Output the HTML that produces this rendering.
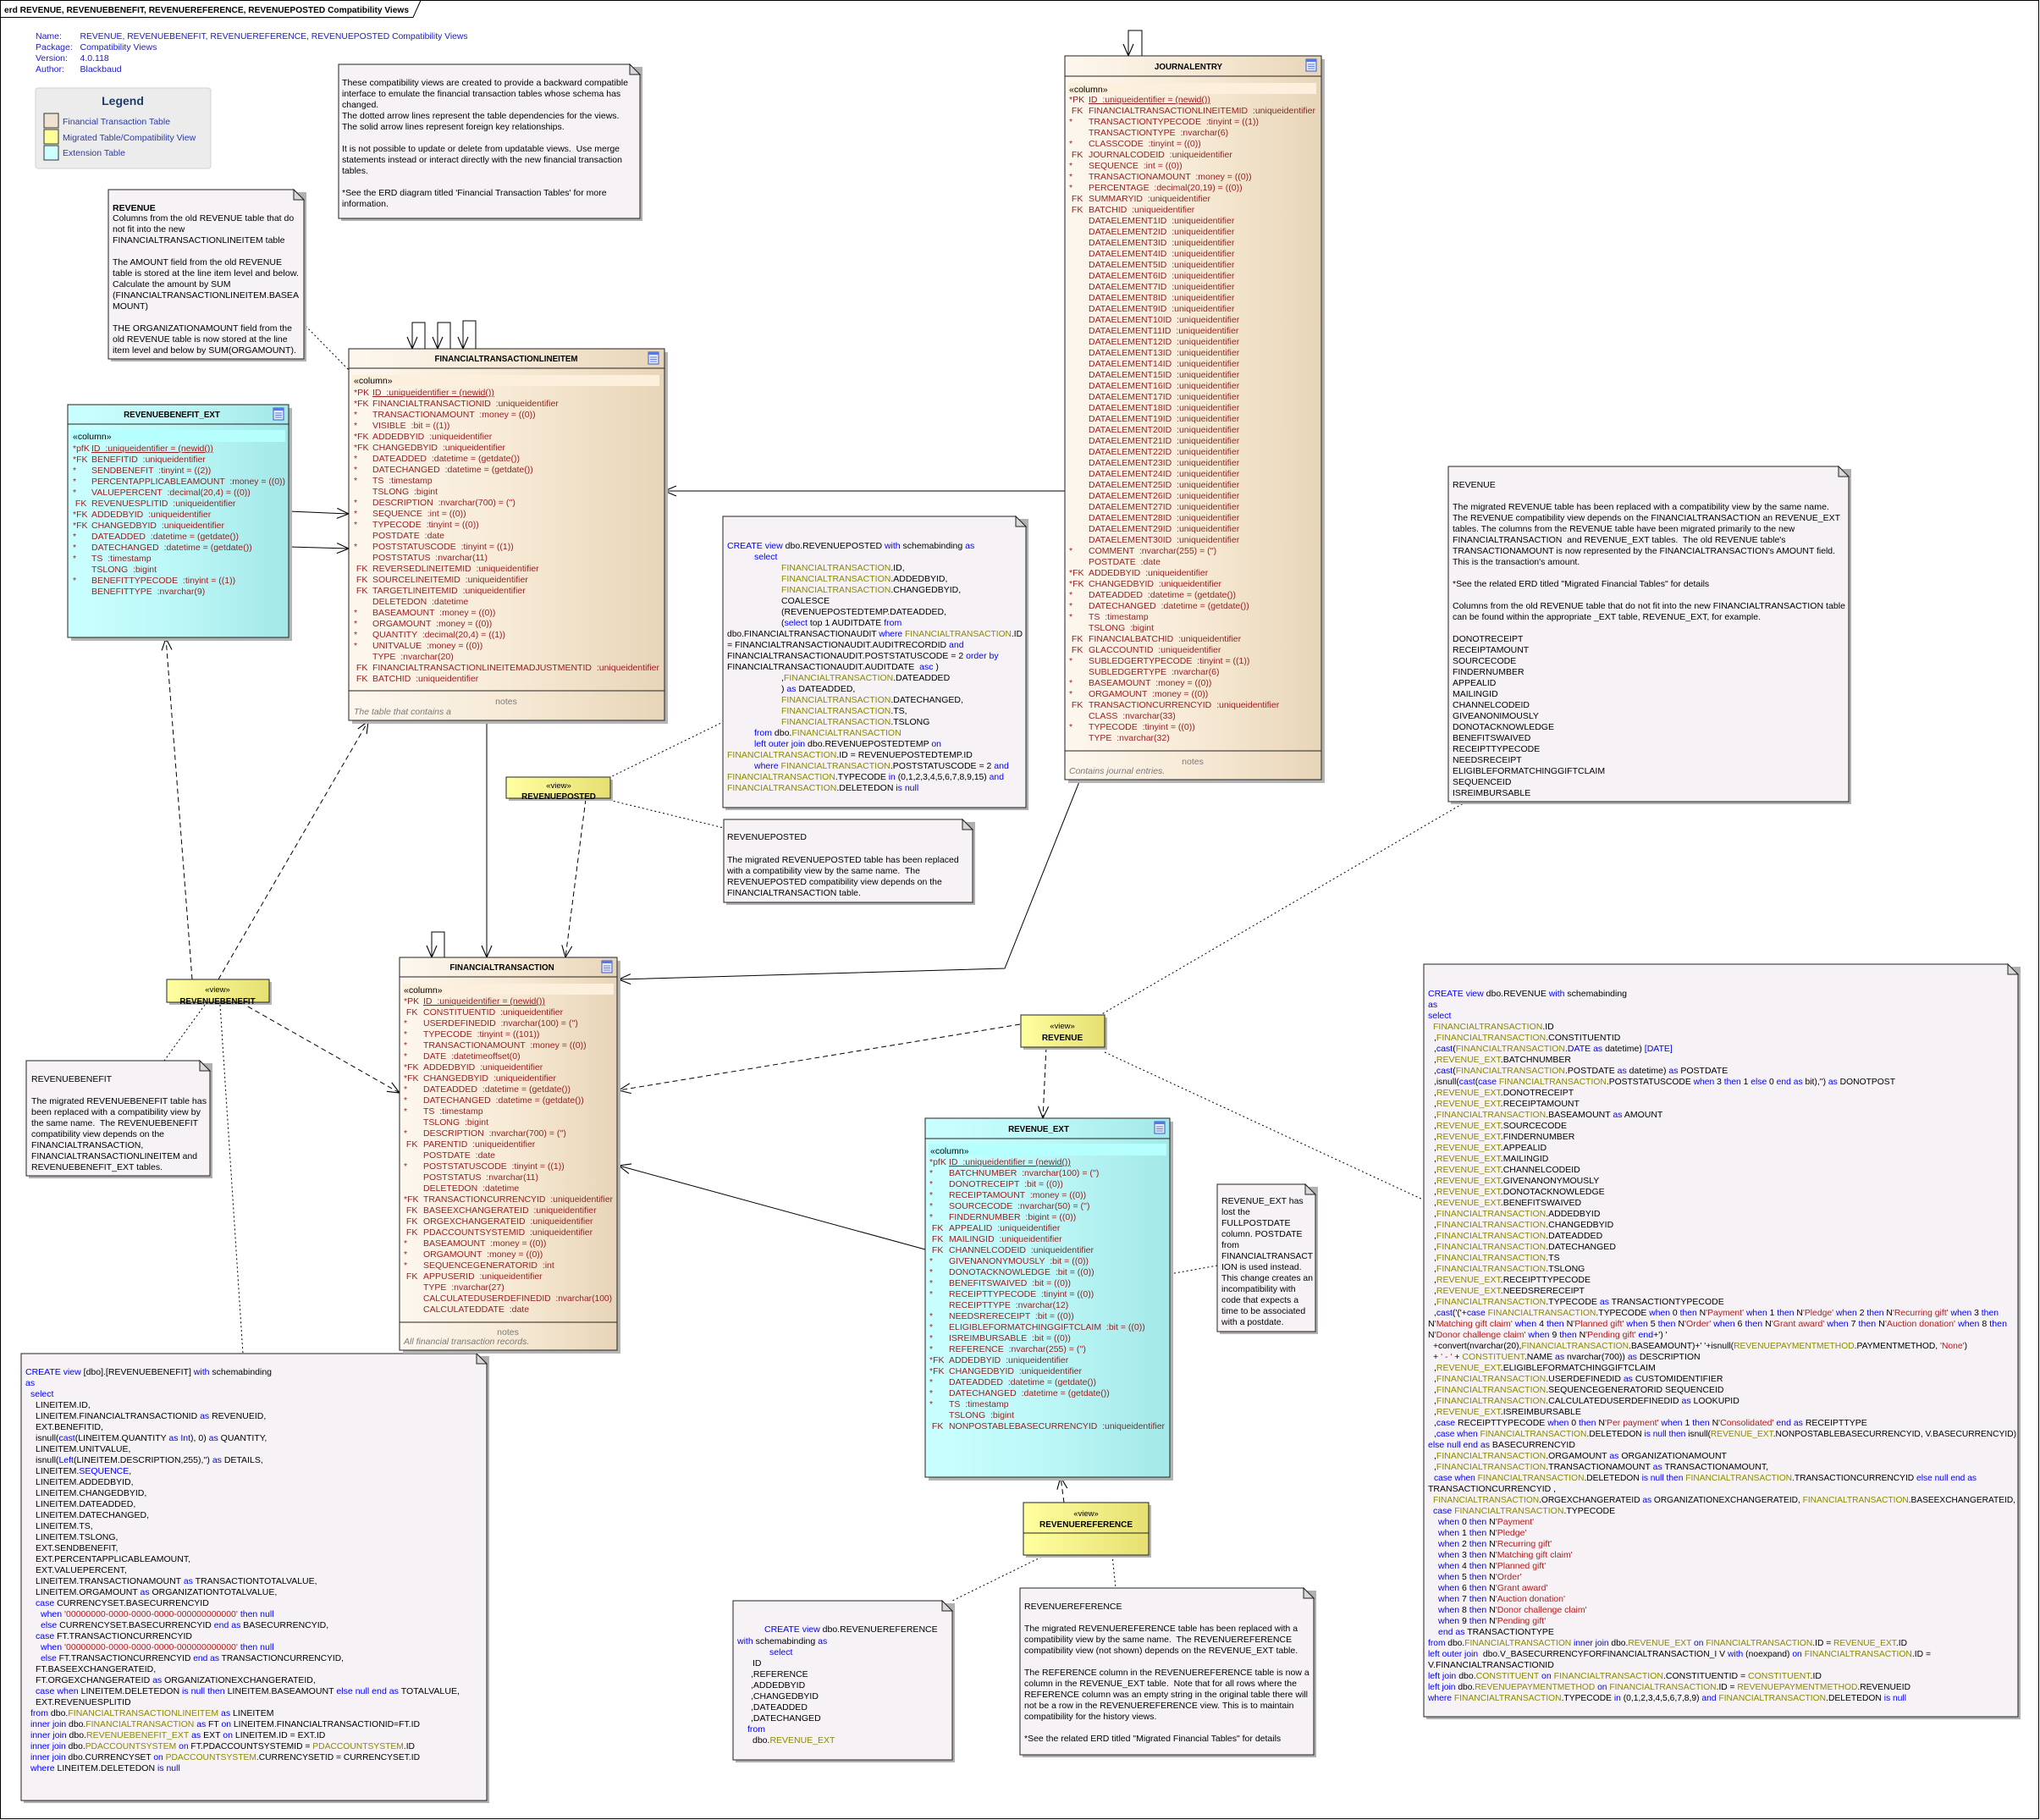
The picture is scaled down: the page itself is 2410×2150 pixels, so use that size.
<!DOCTYPE html>
<html><head><meta charset="utf-8"><title>erd REVENUE Compatibility Views</title>
<style>
html,body{margin:0;padding:0;background:#fff;}
svg{display:block;}
text{font-family:"Liberation Sans",Arial,sans-serif;font-size:10.5px;white-space:pre;fill:#000;}
.r{fill:#961e1e;}
.k{fill:#0000ff;}
.o{fill:#8a8a00;}
.s{fill:#b01c1c;}
.b{font-weight:bold;}
.hd{fill:#2020c0;}
.lg{fill:#2a3aa8;}
.nt{fill:#7a7a7a;}
.it{fill:#7a7a7a;font-style:italic;}
.u{text-decoration:underline;}
.ttl{font-weight:bold;font-size:9.8px;}
</style></head><body>
<svg width="2410" height="2150" viewBox="0 0 2410 2150" xmlns="http://www.w3.org/2000/svg">
<defs>
<linearGradient id="gf" x1="0" y1="0" x2="1" y2="0"><stop offset="0" stop-color="#fdf7ee"/><stop offset="0.5" stop-color="#f7ead6"/><stop offset="1" stop-color="#e8d5b8"/></linearGradient>
<linearGradient id="gc" x1="0" y1="0" x2="1" y2="0"><stop offset="0" stop-color="#caffff"/><stop offset="0.5" stop-color="#bcf7f7"/><stop offset="1" stop-color="#a3e8e8"/></linearGradient>
<linearGradient id="gy" x1="0" y1="0" x2="1" y2="0"><stop offset="0" stop-color="#ffffa0"/><stop offset="1" stop-color="#e6e072"/></linearGradient>
<marker id="a" viewBox="0 0 16 14" refX="15" refY="7" markerWidth="16" markerHeight="14" orient="auto" markerUnits="userSpaceOnUse"><path d="M1 1 L15 7 L1 13" fill="none" stroke="#000" stroke-width="1.1"/></marker>
<g id="ico"><rect x="0" y="0" width="12" height="14" fill="#e4ebff" stroke="#3a58c8" stroke-width="1"/><rect x="0" y="0" width="12" height="3" fill="#5878e0"/><path d="M2 6H10M2 8.5H10M2 11H10" stroke="#3a58c8" stroke-width="0.8"/></g>
</defs>

<!-- frame -->
<rect x="0.5" y="0.5" width="2408" height="2148" fill="none" stroke="#000"/>
<path d="M0.5 20.5 H488 L497 0.5" fill="none" stroke="#000"/>
<text x="5" y="15" class="b" textLength="478" lengthAdjust="spacingAndGlyphs">erd REVENUE, REVENUEBENEFIT, REVENUEREFERENCE, REVENUEPOSTED Compatibility Views</text>

<!-- header info -->
<text x="42" y="46" class="hd">Name:</text><text x="94.5" y="46" class="hd" textLength="458" lengthAdjust="spacingAndGlyphs">REVENUE, REVENUEBENEFIT, REVENUEREFERENCE, REVENUEPOSTED Compatibility Views</text>
<text x="42" y="59" class="hd">Package:</text><text x="94.5" y="59" class="hd">Compatibility Views</text>
<text x="42" y="72" class="hd">Version:</text><text x="94.5" y="72" class="hd">4.0.118</text>
<text x="42" y="85" class="hd">Author:</text><text x="94.5" y="85" class="hd">Blackbaud</text>

<!-- legend -->
<rect x="42" y="104" width="207" height="95" rx="3" fill="#ececec" stroke="#d2d2d2"/>
<text x="145" y="124" text-anchor="middle" style="font-size:14px;font-weight:bold;fill:#1f3a6e">Legend</text>
<rect x="52" y="134" width="17" height="17" fill="#efe2cf" stroke="#333"/>
<text x="74" y="147" class="lg">Financial Transaction Table</text>
<rect x="52" y="153" width="17" height="17" fill="#ffff99" stroke="#333"/>
<text x="74" y="166" class="lg">Migrated Table/Compatibility View</text>
<rect x="52" y="172" width="17" height="17" fill="#ccffff" stroke="#333"/>
<text x="74" y="184" class="lg">Extension Table</text>

<!-- ================= CONNECTORS ================= -->
<g fill="none" stroke="#000" stroke-width="1">
<polyline points="502,412 502,381 487,381 487,412" marker-end="url(#a)"/>
<polyline points="532,412 532,381 517,381 517,412" marker-end="url(#a)"/>
<polyline points="562,412 562,379 547,379 547,412" marker-end="url(#a)"/>
<line x1="341" y1="604" x2="412" y2="607" marker-end="url(#a)"/>
<line x1="341" y1="646" x2="412" y2="648" marker-end="url(#a)"/>
<line x1="1258" y1="580" x2="785" y2="580" marker-end="url(#a)"/>
<line x1="575" y1="851" x2="575" y2="1131" marker-end="url(#a)"/>
<polyline points="525,1131 525,1101 510,1101 510,1131" marker-end="url(#a)"/>
<polyline points="1349,66 1349,36 1333,36 1333,66" marker-end="url(#a)"/>
<polyline points="1276,921 1187,1144 731,1157" marker-end="url(#a)"/>
<line x1="1093" y1="1476" x2="731" y2="1377" marker-end="url(#a)"/>
</g>
<g fill="none" stroke="#000" stroke-width="1" stroke-dasharray="6 4">
<line x1="227" y1="1157" x2="196" y2="754" marker-end="url(#a)"/>
<line x1="258" y1="1157" x2="435" y2="852" marker-end="url(#a)"/>
<line x1="284" y1="1184" x2="472" y2="1291" marker-end="url(#a)"/>
<line x1="692" y1="944" x2="668" y2="1131" marker-end="url(#a)"/>
<line x1="1205" y1="1210" x2="731" y2="1288" marker-end="url(#a)"/>
<line x1="1236" y1="1237" x2="1232" y2="1321" marker-end="url(#a)"/>
<line x1="1257" y1="1775" x2="1253" y2="1745" marker-end="url(#a)"/>
</g>
<g fill="none" stroke="#000" stroke-width="1" stroke-dasharray="2 3">
<line x1="361" y1="385" x2="412" y2="437"/>
<line x1="242" y1="1187" x2="194" y2="1253"/>
<line x1="260" y1="1187" x2="287" y2="1599"/>
<line x1="719" y1="919" x2="854" y2="853"/>
<line x1="715" y1="944" x2="855" y2="978"/>
<line x1="1305" y1="1243" x2="1683" y2="1418"/>
<line x1="1732" y1="947" x2="1300" y2="1199"/>
<line x1="1382" y1="1505" x2="1438" y2="1495"/>
<line x1="1235" y1="1837" x2="1123" y2="1892"/>
<line x1="1314" y1="1837" x2="1318" y2="1876"/>
</g>

<!-- ================= NOTES ================= -->
<!-- top note -->
<rect x="403" y="79" width="356" height="182" fill="#b0b0b0"/>
<path d="M400 76 H744 L756 88 V258 H400 Z" fill="#f6f2f6" stroke="#222"/>
<path d="M744 76 L744 88 L756 88 Z" fill="#d8d8d8" stroke="#222"/>
<text x="404" y="101" textLength="338" lengthAdjust="spacingAndGlyphs">These compatibility views are created to provide a backward compatible</text>
<text x="404" y="114">interface to emulate the financial transaction tables whose schema has</text>
<text x="404" y="127">changed.</text>
<text x="404" y="140">The dotted arrow lines represent the table dependencies for the views.</text>
<text x="404" y="153">The solid arrow lines represent foreign key relationships.</text>
<text x="404" y="179">It is not possible to update or delete from updatable views.  Use merge</text>
<text x="404" y="192">statements instead or interact directly with the new financial transaction</text>
<text x="404" y="205">tables.</text>
<text x="404" y="231">*See the ERD diagram titled 'Financial Transaction Tables' for more</text>
<text x="404" y="244">information.</text>

<!-- REVENUE note left -->
<rect x="131" y="227" width="231" height="200" fill="#b0b0b0"/>
<path d="M128 224 H347 L359 236 V424 H128 Z" fill="#f6f2f6" stroke="#222"/>
<path d="M347 224 L347 236 L359 236 Z" fill="#d8d8d8" stroke="#222"/>
<text x="133" y="249" class="b">REVENUE</text>
<text x="133" y="261">Columns from the old REVENUE table that do</text>
<text x="133" y="274">not fit into the new</text>
<text x="133" y="287">FINANCIALTRANSACTIONLINEITEM table</text>
<text x="133" y="313">The AMOUNT field from the old REVENUE</text>
<text x="133" y="326" textLength="220" lengthAdjust="spacingAndGlyphs">table is stored at the line item level and below.</text>
<text x="133" y="339">Calculate the amount by SUM</text>
<text x="133" y="352" textLength="220" lengthAdjust="spacingAndGlyphs">(FINANCIALTRANSACTIONLINEITEM.BASEA</text>
<text x="133" y="365">MOUNT)</text>
<text x="133" y="391">THE ORGANIZATIONAMOUNT field from the</text>
<text x="133" y="404">old REVENUE table is now stored at the line</text>
<text x="133" y="417" textLength="217" lengthAdjust="spacingAndGlyphs">item level and below by SUM(ORGAMOUNT).</text>

<!-- REVENUEPOSTED SQL note -->
<rect x="857" y="613" width="358" height="344" fill="#b0b0b0"/>
<path d="M854 610 H1200 L1212 622 V954 H854 Z" fill="#f6f2f6" stroke="#222"/>
<path d="M1200 610 L1200 622 L1212 622 Z" fill="#d8d8d8" stroke="#222"/>
<text x="859" y="648"><tspan class="k">CREATE view</tspan> dbo.REVENUEPOSTED <tspan class="k">with</tspan> schemabinding <tspan class="k">as</tspan></text>
<text x="891" y="661" class="k">select</text>
<text x="923" y="674"><tspan class="o">FINANCIALTRANSACTION</tspan>.ID,</text>
<text x="923" y="687"><tspan class="o">FINANCIALTRANSACTION</tspan>.ADDEDBYID,</text>
<text x="923" y="700"><tspan class="o">FINANCIALTRANSACTION</tspan>.CHANGEDBYID,</text>
<text x="923" y="713">COALESCE</text>
<text x="923" y="726">(REVENUEPOSTEDTEMP.DATEADDED,</text>
<text x="923" y="739">(<tspan class="k">select</tspan> top 1 AUDITDATE <tspan class="k">from</tspan></text>
<text x="859" y="752" textLength="349" lengthAdjust="spacingAndGlyphs">dbo.FINANCIALTRANSACTIONAUDIT <tspan class="k">where</tspan> <tspan class="o">FINANCIALTRANSACTION</tspan>.ID</text>
<text x="859" y="765">= FINANCIALTRANSACTIONAUDIT.AUDITRECORDID <tspan class="k">and</tspan></text>
<text x="859" y="778">FINANCIALTRANSACTIONAUDIT.POSTSTATUSCODE = 2 <tspan class="k">order by</tspan></text>
<text x="859" y="791">FINANCIALTRANSACTIONAUDIT.AUDITDATE  <tspan class="k">asc</tspan> )</text>
<text x="923" y="804">,<tspan class="o">FINANCIALTRANSACTION</tspan>.DATEADDED</text>
<text x="923" y="817">) <tspan class="k">as</tspan> DATEADDED,</text>
<text x="923" y="830"><tspan class="o">FINANCIALTRANSACTION</tspan>.DATECHANGED,</text>
<text x="923" y="843"><tspan class="o">FINANCIALTRANSACTION</tspan>.TS,</text>
<text x="923" y="856"><tspan class="o">FINANCIALTRANSACTION</tspan>.TSLONG</text>
<text x="891" y="869"><tspan class="k">from</tspan> dbo.<tspan class="o">FINANCIALTRANSACTION</tspan></text>
<text x="891" y="882"><tspan class="k">left outer join</tspan> dbo.REVENUEPOSTEDTEMP <tspan class="k">on</tspan></text>
<text x="859" y="895"><tspan class="o">FINANCIALTRANSACTION</tspan>.ID = REVENUEPOSTEDTEMP.ID</text>
<text x="891" y="908"><tspan class="k">where</tspan> <tspan class="o">FINANCIALTRANSACTION</tspan>.POSTSTATUSCODE = 2 <tspan class="k">and</tspan></text>
<text x="859" y="921" textLength="327" lengthAdjust="spacingAndGlyphs"><tspan class="o">FINANCIALTRANSACTION</tspan>.TYPECODE <tspan class="k">in</tspan> (0,1,2,3,4,5,6,7,8,9,15) <tspan class="k">and</tspan></text>
<text x="859" y="934"><tspan class="o">FINANCIALTRANSACTION</tspan>.DELETEDON <tspan class="k">is null</tspan></text>

<!-- REVENUEPOSTED note -->
<rect x="858" y="971" width="294" height="98" fill="#b0b0b0"/>
<path d="M855 968 H1137 L1149 980 V1066 H855 Z" fill="#f6f2f6" stroke="#222"/>
<path d="M1137 968 L1137 980 L1149 980 Z" fill="#d8d8d8" stroke="#222"/>
<text x="859" y="992">REVENUEPOSTED</text>
<text x="859" y="1019">The migrated REVENUEPOSTED table has been replaced</text>
<text x="859" y="1032">with a compatibility view by the same name.  The</text>
<text x="859" y="1045">REVENUEPOSTED compatibility view depends on the</text>
<text x="859" y="1058">FINANCIALTRANSACTION table.</text>

<!-- REVENUE note right -->
<rect x="1714" y="554" width="473" height="396" fill="#b0b0b0"/>
<path d="M1711 551 H2172 L2184 563 V947 H1711 Z" fill="#f6f2f6" stroke="#222"/>
<path d="M2172 551 L2172 563 L2184 563 Z" fill="#d8d8d8" stroke="#222"/>
<text x="1716" y="576">REVENUE</text>
<text x="1716" y="602" textLength="445" lengthAdjust="spacingAndGlyphs">The migrated REVENUE table has been replaced with a compatibility view by the same name.</text>
<text x="1716" y="615" textLength="458" lengthAdjust="spacingAndGlyphs">The REVENUE compatibility view depends on the FINANCIALTRANSACTION an REVENUE_EXT</text>
<text x="1716" y="628">tables. The columns from the REVENUE table have been migrated primarily to the new</text>
<text x="1716" y="641">FINANCIALTRANSACTION  and REVENUE_EXT tables.  The old REVENUE table's</text>
<text x="1716" y="654" textLength="452" lengthAdjust="spacingAndGlyphs">TRANSACTIONAMOUNT is now represented by the FINANCIALTRANSACTION's AMOUNT field.</text>
<text x="1716" y="667">This is the transaction's amount.</text>
<text x="1716" y="693">*See the related ERD titled "Migrated Financial Tables" for details</text>
<text x="1716" y="719" textLength="464" lengthAdjust="spacingAndGlyphs">Columns from the old REVENUE table that do not fit into the new FINANCIALTRANSACTION table</text>
<text x="1716" y="732">can be found within the appropriate _EXT table, REVENUE_EXT, for example.</text>
<text x="1716" y="758">DONOTRECEIPT</text>
<text x="1716" y="771">RECEIPTAMOUNT</text>
<text x="1716" y="784">SOURCECODE</text>
<text x="1716" y="797">FINDERNUMBER</text>
<text x="1716" y="810">APPEALID</text>
<text x="1716" y="823">MAILINGID</text>
<text x="1716" y="836">CHANNELCODEID</text>
<text x="1716" y="849">GIVEANONIMOUSLY</text>
<text x="1716" y="862">DONOTACKNOWLEDGE</text>
<text x="1716" y="875">BENEFITSWAIVED</text>
<text x="1716" y="888">RECEIPTTYPECODE</text>
<text x="1716" y="901">NEEDSRECEIPT</text>
<text x="1716" y="914">ELIGIBLEFORMATCHINGGIFTCLAIM</text>
<text x="1716" y="927">SEQUENCEID</text>
<text x="1716" y="940">ISREIMBURSABLE</text>

<!-- REVENUEBENEFIT note -->
<rect x="34" y="1256" width="217" height="136" fill="#b0b0b0"/>
<path d="M31 1253 H236 L248 1265 V1389 H31 Z" fill="#f6f2f6" stroke="#222"/>
<path d="M236 1253 L236 1265 L248 1265 Z" fill="#d8d8d8" stroke="#222"/>
<text x="37" y="1278">REVENUEBENEFIT</text>
<text x="37" y="1304" textLength="207" lengthAdjust="spacingAndGlyphs">The migrated REVENUEBENEFIT table has</text>
<text x="37" y="1317" textLength="200" lengthAdjust="spacingAndGlyphs">been replaced with a compatibility view by</text>
<text x="37" y="1330">the same name.  The REVENUEBENEFIT</text>
<text x="37" y="1343">compatibility view depends on the</text>
<text x="37" y="1356">FINANCIALTRANSACTION,</text>
<text x="37" y="1369" textLength="196" lengthAdjust="spacingAndGlyphs">FINANCIALTRANSACTIONLINEITEM and</text>
<text x="37" y="1382">REVENUEBENEFIT_EXT tables.</text>

<!-- REVENUEBENEFIT SQL -->
<rect x="28" y="1602" width="550" height="528" fill="#b0b0b0"/>
<path d="M25 1599 H563 L575 1611 V2127 H25 Z" fill="#f6f2f6" stroke="#222"/>
<path d="M563 1599 L563 1611 L575 1611 Z" fill="#d8d8d8" stroke="#222"/>
<text x="30" y="1624"><tspan class="k">CREATE view</tspan> [dbo].[REVENUEBENEFIT] <tspan class="k">with</tspan> schemabinding</text>
<text x="30" y="1637" class="k">as</text>
<text x="36" y="1650" class="k">select</text>
<text x="42" y="1663">LINEITEM.ID,</text>
<text x="42" y="1676">LINEITEM.FINANCIALTRANSACTIONID <tspan class="k">as</tspan> REVENUEID,</text>
<text x="42" y="1689">EXT.BENEFITID,</text>
<text x="42" y="1702">isnull(<tspan class="k">cast</tspan>(LINEITEM.QUANTITY <tspan class="k">as Int</tspan>), 0) <tspan class="k">as</tspan> QUANTITY,</text>
<text x="42" y="1715">LINEITEM.UNITVALUE,</text>
<text x="42" y="1728">isnull(<tspan class="k">Left</tspan>(LINEITEM.DESCRIPTION,255),'') <tspan class="k">as</tspan> DETAILS,</text>
<text x="42" y="1741">LINEITEM.<tspan class="k">SEQUENCE</tspan>,</text>
<text x="42" y="1754">LINEITEM.ADDEDBYID,</text>
<text x="42" y="1767">LINEITEM.CHANGEDBYID,</text>
<text x="42" y="1780">LINEITEM.DATEADDED,</text>
<text x="42" y="1793">LINEITEM.DATECHANGED,</text>
<text x="42" y="1806">LINEITEM.TS,</text>
<text x="42" y="1819">LINEITEM.TSLONG,</text>
<text x="42" y="1832">EXT.SENDBENEFIT,</text>
<text x="42" y="1845">EXT.PERCENTAPPLICABLEAMOUNT,</text>
<text x="42" y="1858">EXT.VALUEPERCENT,</text>
<text x="42" y="1871">LINEITEM.TRANSACTIONAMOUNT <tspan class="k">as</tspan> TRANSACTIONTOTALVALUE,</text>
<text x="42" y="1884">LINEITEM.ORGAMOUNT <tspan class="k">as</tspan> ORGANIZATIONTOTALVALUE,</text>
<text x="42" y="1897"><tspan class="k">case</tspan> CURRENCYSET.BASECURRENCYID</text>
<text x="48" y="1910"><tspan class="k">when</tspan> <tspan class="s">'00000000-0000-0000-0000-000000000000'</tspan> <tspan class="k">then null</tspan></text>
<text x="48" y="1923"><tspan class="k">else</tspan> CURRENCYSET.BASECURRENCYID <tspan class="k">end as</tspan> BASECURRENCYID,</text>
<text x="42" y="1936"><tspan class="k">case</tspan> FT.TRANSACTIONCURRENCYID</text>
<text x="48" y="1949"><tspan class="k">when</tspan> <tspan class="s">'00000000-0000-0000-0000-000000000000'</tspan> <tspan class="k">then null</tspan></text>
<text x="48" y="1962" textLength="358" lengthAdjust="spacingAndGlyphs"><tspan class="k">else</tspan> FT.TRANSACTIONCURRENCYID <tspan class="k">end as</tspan> TRANSACTIONCURRENCYID,</text>
<text x="42" y="1975">FT.BASEEXCHANGERATEID,</text>
<text x="42" y="1988">FT.ORGEXCHANGERATEID <tspan class="k">as</tspan> ORGANIZATIONEXCHANGERATEID,</text>
<text x="42" y="2001" textLength="501" lengthAdjust="spacingAndGlyphs"><tspan class="k">case when</tspan> LINEITEM.DELETEDON <tspan class="k">is null then</tspan> LINEITEM.BASEAMOUNT <tspan class="k">else null end as</tspan> TOTALVALUE,</text>
<text x="42" y="2014">EXT.REVENUESPLITID</text>
<text x="36" y="2027"><tspan class="k">from</tspan> dbo.<tspan class="o">FINANCIALTRANSACTIONLINEITEM</tspan> <tspan class="k">as</tspan> LINEITEM</text>
<text x="36" y="2040" textLength="460" lengthAdjust="spacingAndGlyphs"><tspan class="k">inner join</tspan> dbo.<tspan class="o">FINANCIALTRANSACTION</tspan> <tspan class="k">as</tspan> FT <tspan class="k">on</tspan> LINEITEM.FINANCIALTRANSACTIONID=FT.ID</text>
<text x="36" y="2053"><tspan class="k">inner join</tspan> dbo.<tspan class="o">REVENUEBENEFIT_EXT</tspan> <tspan class="k">as</tspan> EXT <tspan class="k">on</tspan> LINEITEM.ID = EXT.ID</text>
<text x="36" y="2066" textLength="454" lengthAdjust="spacingAndGlyphs"><tspan class="k">inner join</tspan> dbo.<tspan class="o">PDACCOUNTSYSTEM</tspan> <tspan class="k">on</tspan> FT.PDACCOUNTSYSTEMID = <tspan class="o">PDACCOUNTSYSTEM</tspan>.ID</text>
<text x="36" y="2079" textLength="460" lengthAdjust="spacingAndGlyphs"><tspan class="k">inner join</tspan> dbo.CURRENCYSET <tspan class="k">on</tspan> <tspan class="o">PDACCOUNTSYSTEM</tspan>.CURRENCYSETID = CURRENCYSET.ID</text>
<text x="36" y="2092"><tspan class="k">where</tspan> LINEITEM.DELETEDON <tspan class="k">is null</tspan></text>

<!-- REVENUE_EXT note -->
<rect x="1441" y="1402" width="116" height="174" fill="#b0b0b0"/>
<path d="M1438 1399 H1542 L1554 1411 V1573 H1438 Z" fill="#f6f2f6" stroke="#222"/>
<path d="M1542 1399 L1542 1411 L1554 1411 Z" fill="#d8d8d8" stroke="#222"/>
<text x="1443" y="1422">REVENUE_EXT has</text>
<text x="1443" y="1435">lost the</text>
<text x="1443" y="1448">FULLPOSTDATE</text>
<text x="1443" y="1461">column. POSTDATE</text>
<text x="1443" y="1474">from</text>
<text x="1443" y="1487" textLength="108" lengthAdjust="spacingAndGlyphs">FINANCIALTRANSACT</text>
<text x="1443" y="1500">ION is used instead.</text>
<text x="1443" y="1513" textLength="108" lengthAdjust="spacingAndGlyphs">This change creates an</text>
<text x="1443" y="1526">incompatibility with</text>
<text x="1443" y="1539">code that expects a</text>
<text x="1443" y="1552">time to be associated</text>
<text x="1443" y="1565">with a postdate.</text>

<!-- REVENUEREFERENCE SQL note -->
<rect x="869" y="1894" width="259" height="188" fill="#b0b0b0"/>
<path d="M866 1891 H1113 L1125 1903 V2079 H866 Z" fill="#f6f2f6" stroke="#222"/>
<path d="M1113 1891 L1113 1903 L1125 1903 Z" fill="#d8d8d8" stroke="#222"/>
<text x="903" y="1928"><tspan class="k">CREATE view</tspan> dbo.REVENUEREFERENCE</text>
<text x="871" y="1942"><tspan class="k">with</tspan> schemabinding <tspan class="k">as</tspan></text>
<text x="909" y="1955" class="k">select</text>
<text x="889" y="1968">ID</text>
<text x="887" y="1981">,REFERENCE</text>
<text x="887" y="1994">,ADDEDBYID</text>
<text x="887" y="2007">,CHANGEDBYID</text>
<text x="887" y="2020">,DATEADDED</text>
<text x="887" y="2033">,DATECHANGED</text>
<text x="883" y="2046" class="k">from</text>
<text x="889" y="2059">dbo.<tspan class="o">REVENUE_EXT</tspan></text>

<!-- REVENUEREFERENCE note -->
<rect x="1208" y="1879" width="347" height="197" fill="#b0b0b0"/>
<path d="M1205 1876 H1540 L1552 1888 V2073 H1205 Z" fill="#f6f2f6" stroke="#222"/>
<path d="M1540 1876 L1540 1888 L1552 1888 Z" fill="#d8d8d8" stroke="#222"/>
<text x="1210" y="1901">REVENUEREFERENCE</text>
<text x="1210" y="1927" textLength="323" lengthAdjust="spacingAndGlyphs">The migrated REVENUEREFERENCE table has been replaced with a</text>
<text x="1210" y="1940">compatibility view by the same name.  The REVENUEREFERENCE</text>
<text x="1210" y="1953">compatibility view (not shown) depends on the REVENUE_EXT table.</text>
<text x="1210" y="1979">The REFERENCE column in the REVENUEREFERENCE table is now a</text>
<text x="1210" y="1992">column in the REVENUE_EXT table.  Note that for all rows where the</text>
<text x="1210" y="2005" textLength="335" lengthAdjust="spacingAndGlyphs">REFERENCE column was an empty string in the original table there will</text>
<text x="1210" y="2018">not be a row in the REVENUEREFERENCE view. This is to maintain</text>
<text x="1210" y="2031">compatibility for the history views.</text>
<text x="1210" y="2057">*See the related ERD titled "Migrated Financial Tables" for details</text>

<!-- REVENUE SQL note -->
<rect x="1685" y="1142" width="702" height="889" fill="#b0b0b0"/>
<path d="M1682 1139 H2372 L2384 1151 V2028 H1682 Z" fill="#f6f2f6" stroke="#222"/>
<path d="M2372 1139 L2372 1151 L2384 1151 Z" fill="#d8d8d8" stroke="#222"/>
<text x="1687" y="1177"><tspan class="k">CREATE view</tspan> dbo.REVENUE <tspan class="k">with</tspan> schemabinding</text>
<text x="1687" y="1190" class="k">as</text>
<text x="1687" y="1203" class="k">select</text>
<text x="1693" y="1216"><tspan class="o">FINANCIALTRANSACTION</tspan>.ID</text>
<text x="1694" y="1229">,<tspan class="o">FINANCIALTRANSACTION</tspan>.CONSTITUENTID</text>
<text x="1694" y="1242">,<tspan class="k">cast</tspan>(<tspan class="o">FINANCIALTRANSACTION</tspan><tspan class="k">.DATE as</tspan> datetime) <tspan class="k">[DATE]</tspan></text>
<text x="1694" y="1255">,<tspan class="o">REVENUE_EXT</tspan>.BATCHNUMBER</text>
<text x="1694" y="1268">,<tspan class="k">cast</tspan>(<tspan class="o">FINANCIALTRANSACTION</tspan>.POSTDATE <tspan class="k">as</tspan> datetime) <tspan class="k">as</tspan> POSTDATE</text>
<text x="1694" y="1281" textLength="545" lengthAdjust="spacingAndGlyphs">,isnull(<tspan class="k">cast</tspan>(<tspan class="k">case</tspan> <tspan class="o">FINANCIALTRANSACTION</tspan>.POSTSTATUSCODE <tspan class="k">when</tspan> 3 <tspan class="k">then</tspan> 1 <tspan class="k">else</tspan> 0 <tspan class="k">end as</tspan> bit),'') <tspan class="k">as</tspan> DONOTPOST</text>
<text x="1694" y="1294">,<tspan class="o">REVENUE_EXT</tspan>.DONOTRECEIPT</text>
<text x="1694" y="1307">,<tspan class="o">REVENUE_EXT</tspan>.RECEIPTAMOUNT</text>
<text x="1694" y="1320">,<tspan class="o">FINANCIALTRANSACTION</tspan>.BASEAMOUNT <tspan class="k">as</tspan> AMOUNT</text>
<text x="1694" y="1333">,<tspan class="o">REVENUE_EXT</tspan>.SOURCECODE</text>
<text x="1694" y="1346">,<tspan class="o">REVENUE_EXT</tspan>.FINDERNUMBER</text>
<text x="1694" y="1359">,<tspan class="o">REVENUE_EXT</tspan>.APPEALID</text>
<text x="1694" y="1372">,<tspan class="o">REVENUE_EXT</tspan>.MAILINGID</text>
<text x="1694" y="1385">,<tspan class="o">REVENUE_EXT</tspan>.CHANNELCODEID</text>
<text x="1694" y="1398">,<tspan class="o">REVENUE_EXT</tspan>.GIVENANONYMOUSLY</text>
<text x="1694" y="1411">,<tspan class="o">REVENUE_EXT</tspan>.DONOTACKNOWLEDGE</text>
<text x="1694" y="1424">,<tspan class="o">REVENUE_EXT</tspan>.BENEFITSWAIVED</text>
<text x="1694" y="1437">,<tspan class="o">FINANCIALTRANSACTION</tspan>.ADDEDBYID</text>
<text x="1694" y="1450">,<tspan class="o">FINANCIALTRANSACTION</tspan>.CHANGEDBYID</text>
<text x="1694" y="1463">,<tspan class="o">FINANCIALTRANSACTION</tspan>.DATEADDED</text>
<text x="1694" y="1476">,<tspan class="o">FINANCIALTRANSACTION</tspan>.DATECHANGED</text>
<text x="1694" y="1489">,<tspan class="o">FINANCIALTRANSACTION</tspan>.TS</text>
<text x="1694" y="1502">,<tspan class="o">FINANCIALTRANSACTION</tspan>.TSLONG</text>
<text x="1694" y="1515">,<tspan class="o">REVENUE_EXT</tspan>.RECEIPTTYPECODE</text>
<text x="1694" y="1528">,<tspan class="o">REVENUE_EXT</tspan>.NEEDSRERECEIPT</text>
<text x="1694" y="1541">,<tspan class="o">FINANCIALTRANSACTION</tspan>.TYPECODE <tspan class="k">as</tspan> TRANSACTIONTYPECODE</text>
<text x="1694" y="1554" textLength="667" lengthAdjust="spacingAndGlyphs">,<tspan class="k">cast</tspan>('('+<tspan class="k">case</tspan> <tspan class="o">FINANCIALTRANSACTION</tspan>.TYPECODE <tspan class="k">when</tspan> 0 <tspan class="k">then</tspan> N<tspan class="s">'Payment'</tspan> <tspan class="k">when</tspan> 1 <tspan class="k">then</tspan> N<tspan class="s">'Pledge'</tspan> <tspan class="k">when</tspan> 2 <tspan class="k">then</tspan> N<tspan class="s">'Recurring gift'</tspan> <tspan class="k">when</tspan> 3 <tspan class="k">then</tspan></text>
<text x="1687" y="1567" textLength="684" lengthAdjust="spacingAndGlyphs">N<tspan class="s">'Matching gift claim'</tspan> <tspan class="k">when</tspan> 4 <tspan class="k">then</tspan> N<tspan class="s">'Planned gift'</tspan> <tspan class="k">when</tspan> 5 <tspan class="k">then</tspan> N<tspan class="s">'Order'</tspan> <tspan class="k">when</tspan> 6 <tspan class="k">then</tspan> N<tspan class="s">'Grant award'</tspan> <tspan class="k">when</tspan> 7 <tspan class="k">then</tspan> N<tspan class="s">'Auction donation'</tspan> <tspan class="k">when</tspan> 8 <tspan class="k">then</tspan></text>
<text x="1687" y="1580">N<tspan class="s">'Donor challenge claim'</tspan> <tspan class="k">when</tspan> 9 <tspan class="k">then</tspan> N<tspan class="s">'Pending gift'</tspan> <tspan class="k">end</tspan>+') '</text>
<text x="1693" y="1593" textLength="631" lengthAdjust="spacingAndGlyphs">+convert(nvarchar(20),<tspan class="o">FINANCIALTRANSACTION</tspan>.BASEAMOUNT)+' '+isnull(<tspan class="o">REVENUEPAYMENTMETHOD</tspan>.PAYMENTMETHOD, <tspan class="s">'None'</tspan>)</text>
<text x="1693" y="1606">+ <tspan class="s">' - '</tspan> + <tspan class="o">CONSTITUENT</tspan>.NAME <tspan class="k">as</tspan> nvarchar(700)) <tspan class="k">as</tspan> DESCRIPTION</text>
<text x="1694" y="1619">,<tspan class="o">REVENUE_EXT</tspan>.ELIGIBLEFORMATCHINGGIFTCLAIM</text>
<text x="1694" y="1632">,<tspan class="o">FINANCIALTRANSACTION</tspan>.USERDEFINEDID <tspan class="k">as</tspan> CUSTOMIDENTIFIER</text>
<text x="1694" y="1645">,<tspan class="o">FINANCIALTRANSACTION</tspan>.SEQUENCEGENERATORID SEQUENCEID</text>
<text x="1694" y="1658">,<tspan class="o">FINANCIALTRANSACTION</tspan>.CALCULATEDUSERDEFINEDID <tspan class="k">as</tspan> LOOKUPID</text>
<text x="1694" y="1671">,<tspan class="o">REVENUE_EXT</tspan>.ISREIMBURSABLE</text>
<text x="1694" y="1684">,<tspan class="k">case</tspan> RECEIPTTYPECODE <tspan class="k">when</tspan> 0 <tspan class="k">then</tspan> N<tspan class="s">'Per payment'</tspan> <tspan class="k">when</tspan> 1 <tspan class="k">then</tspan> N<tspan class="s">'Consolidated'</tspan> <tspan class="k">end as</tspan> RECEIPTTYPE</text>
<text x="1694" y="1697" textLength="688" lengthAdjust="spacingAndGlyphs">,<tspan class="k">case when</tspan> <tspan class="o">FINANCIALTRANSACTION</tspan>.DELETEDON <tspan class="k">is null then</tspan> isnull(<tspan class="o">REVENUE_EXT</tspan>.NONPOSTABLEBASECURRENCYID, V.BASECURRENCYID)</text>
<text x="1687" y="1710"><tspan class="k">else null end as</tspan> BASECURRENCYID</text>
<text x="1694" y="1723">,<tspan class="o">FINANCIALTRANSACTION</tspan>.ORGAMOUNT <tspan class="k">as</tspan> ORGANIZATIONAMOUNT</text>
<text x="1694" y="1736">,<tspan class="o">FINANCIALTRANSACTION</tspan>.TRANSACTIONAMOUNT <tspan class="k">as</tspan> TRANSACTIONAMOUNT,</text>
<text x="1694" y="1749" textLength="641" lengthAdjust="spacingAndGlyphs"><tspan class="k">case when</tspan> <tspan class="o">FINANCIALTRANSACTION</tspan>.DELETEDON <tspan class="k">is null then</tspan> <tspan class="o">FINANCIALTRANSACTION</tspan>.TRANSACTIONCURRENCYID <tspan class="k">else null end as</tspan></text>
<text x="1687" y="1762">TRANSACTIONCURRENCYID ,</text>
<text x="1693" y="1775" textLength="688" lengthAdjust="spacingAndGlyphs"><tspan class="o">FINANCIALTRANSACTION</tspan>.ORGEXCHANGERATEID <tspan class="k">as</tspan> ORGANIZATIONEXCHANGERATEID, <tspan class="o">FINANCIALTRANSACTION</tspan>.BASEEXCHANGERATEID,</text>
<text x="1693" y="1788"><tspan class="k">case</tspan> <tspan class="o">FINANCIALTRANSACTION</tspan>.TYPECODE</text>
<text x="1699" y="1801"><tspan class="k">when</tspan> 0 <tspan class="k">then</tspan> N<tspan class="s">'Payment'</tspan></text>
<text x="1699" y="1814"><tspan class="k">when</tspan> 1 <tspan class="k">then</tspan> N<tspan class="s">'Pledge'</tspan></text>
<text x="1699" y="1827"><tspan class="k">when</tspan> 2 <tspan class="k">then</tspan> N<tspan class="s">'Recurring gift'</tspan></text>
<text x="1699" y="1840"><tspan class="k">when</tspan> 3 <tspan class="k">then</tspan> N<tspan class="s">'Matching gift claim'</tspan></text>
<text x="1699" y="1853"><tspan class="k">when</tspan> 4 <tspan class="k">then</tspan> N<tspan class="s">'Planned gift'</tspan></text>
<text x="1699" y="1866"><tspan class="k">when</tspan> 5 <tspan class="k">then</tspan> N<tspan class="s">'Order'</tspan></text>
<text x="1699" y="1879"><tspan class="k">when</tspan> 6 <tspan class="k">then</tspan> N<tspan class="s">'Grant award'</tspan></text>
<text x="1699" y="1892"><tspan class="k">when</tspan> 7 <tspan class="k">then</tspan> N<tspan class="s">'Auction donation'</tspan></text>
<text x="1699" y="1905"><tspan class="k">when</tspan> 8 <tspan class="k">then</tspan> N<tspan class="s">'Donor challenge claim'</tspan></text>
<text x="1699" y="1918"><tspan class="k">when</tspan> 9 <tspan class="k">then</tspan> N<tspan class="s">'Pending gift'</tspan></text>
<text x="1699" y="1931"><tspan class="k">end as</tspan> TRANSACTIONTYPE</text>
<text x="1687" y="1944" textLength="566" lengthAdjust="spacingAndGlyphs"><tspan class="k">from</tspan> dbo.<tspan class="o">FINANCIALTRANSACTION</tspan> <tspan class="k">inner join</tspan> dbo.<tspan class="o">REVENUE_EXT</tspan> <tspan class="k">on</tspan> <tspan class="o">FINANCIALTRANSACTION</tspan>.ID = <tspan class="o">REVENUE_EXT</tspan>.ID</text>
<text x="1687" y="1957" textLength="594" lengthAdjust="spacingAndGlyphs"><tspan class="k">left outer join</tspan>  dbo.V_BASECURRENCYFORFINANCIALTRANSACTION_I V <tspan class="k">with</tspan> (noexpand) <tspan class="k">on</tspan> <tspan class="o">FINANCIALTRANSACTION</tspan>.ID =</text>
<text x="1687" y="1970">V.FINANCIALTRANSACTIONID</text>
<text x="1687" y="1983"><tspan class="k">left join</tspan> dbo.<tspan class="o">CONSTITUENT</tspan> <tspan class="k">on</tspan> <tspan class="o">FINANCIALTRANSACTION</tspan>.CONSTITUENTID = <tspan class="o">CONSTITUENT</tspan>.ID</text>
<text x="1687" y="1996" textLength="570" lengthAdjust="spacingAndGlyphs"><tspan class="k">left join</tspan> dbo.<tspan class="o">REVENUEPAYMENTMETHOD</tspan> <tspan class="k">on</tspan> <tspan class="o">FINANCIALTRANSACTION</tspan>.ID = <tspan class="o">REVENUEPAYMENTMETHOD</tspan>.REVENUEID</text>
<text x="1687" y="2009" textLength="565" lengthAdjust="spacingAndGlyphs"><tspan class="k">where</tspan> <tspan class="o">FINANCIALTRANSACTION</tspan>.TYPECODE <tspan class="k">in</tspan> (0,1,2,3,4,5,6,7,8,9) <tspan class="k">and</tspan> <tspan class="o">FINANCIALTRANSACTION</tspan>.DELETEDON <tspan class="k">is null</tspan></text>

<!-- ================= TABLES ================= -->
<!-- FINANCIALTRANSACTIONLINEITEM -->
<rect x="416" y="416" width="373" height="439" fill="#b4b4b4"/>
<rect x="412" y="412" width="373" height="439" fill="url(#gf)" stroke="#222"/>
<line x1="412" y1="435" x2="785" y2="435" stroke="#222"/>
<line x1="412" y1="816" x2="785" y2="816" stroke="#222"/>
<text x="598" y="427" text-anchor="middle" class="ttl">FINANCIALTRANSACTIONLINEITEM</text>
<use href="#ico" x="766" y="416"/>
<rect x="416" y="443" width="363" height="13" fill="#fcefdb"/>
<text x="418" y="453">«column»</text>
<g class="r">
<text x="418" y="467" class="r">*PK</text><text x="440" y="467" class="r u">ID  :uniqueidentifier = (newid())</text>
<text x="418" y="480" class="r">*FK</text><text x="440" y="480" class="r">FINANCIALTRANSACTIONID  :uniqueidentifier</text>
<text x="418" y="493" class="r">*</text><text x="440" y="493" class="r">TRANSACTIONAMOUNT  :money = ((0))</text>
<text x="418" y="506" class="r">*</text><text x="440" y="506" class="r">VISIBLE  :bit = ((1))</text>
<text x="418" y="519" class="r">*FK</text><text x="440" y="519" class="r">ADDEDBYID  :uniqueidentifier</text>
<text x="418" y="532" class="r">*FK</text><text x="440" y="532" class="r">CHANGEDBYID  :uniqueidentifier</text>
<text x="418" y="545" class="r">*</text><text x="440" y="545" class="r">DATEADDED  :datetime = (getdate())</text>
<text x="418" y="558" class="r">*</text><text x="440" y="558" class="r">DATECHANGED  :datetime = (getdate())</text>
<text x="418" y="571" class="r">*</text><text x="440" y="571" class="r">TS  :timestamp</text>
<text x="440" y="584" class="r">TSLONG  :bigint</text>
<text x="418" y="597" class="r">*</text><text x="440" y="597" class="r">DESCRIPTION  :nvarchar(700) = ('')</text>
<text x="418" y="610" class="r">*</text><text x="440" y="610" class="r">SEQUENCE  :int = ((0))</text>
<text x="418" y="623" class="r">*</text><text x="440" y="623" class="r">TYPECODE  :tinyint = ((0))</text>
<text x="440" y="636" class="r">POSTDATE  :date</text>
<text x="418" y="649" class="r">*</text><text x="440" y="649" class="r">POSTSTATUSCODE  :tinyint = ((1))</text>
<text x="440" y="662" class="r">POSTSTATUS  :nvarchar(11)</text>
<text x="418" y="675" class="r"> FK</text><text x="440" y="675" class="r">REVERSEDLINEITEMID  :uniqueidentifier</text>
<text x="418" y="688" class="r"> FK</text><text x="440" y="688" class="r">SOURCELINEITEMID  :uniqueidentifier</text>
<text x="418" y="701" class="r"> FK</text><text x="440" y="701" class="r">TARGETLINEITEMID  :uniqueidentifier</text>
<text x="440" y="714" class="r">DELETEDON  :datetime</text>
<text x="418" y="727" class="r">*</text><text x="440" y="727" class="r">BASEAMOUNT  :money = ((0))</text>
<text x="418" y="740" class="r">*</text><text x="440" y="740" class="r">ORGAMOUNT  :money = ((0))</text>
<text x="418" y="753" class="r">*</text><text x="440" y="753" class="r">QUANTITY  :decimal(20,4) = ((1))</text>
<text x="418" y="766" class="r">*</text><text x="440" y="766" class="r">UNITVALUE  :money = ((0))</text>
<text x="440" y="779" class="r">TYPE  :nvarchar(20)</text>
<text x="418" y="792" class="r"> FK</text><text x="440" y="792" class="r" textLength="339" lengthAdjust="spacingAndGlyphs">FINANCIALTRANSACTIONLINEITEMADJUSTMENTID  :uniqueidentifier</text>
<text x="418" y="805" class="r"> FK</text><text x="440" y="805" class="r">BATCHID  :uniqueidentifier</text>
</g>
<text x="598" y="832" text-anchor="middle" class="nt">notes</text>
<text x="418" y="844" class="it">The table that contains a</text>

<!-- REVENUEBENEFIT_EXT -->
<rect x="84" y="482" width="261" height="275" fill="#b4b4b4"/>
<rect x="80" y="478" width="261" height="275" fill="url(#gc)" stroke="#222"/>
<line x1="80" y1="501" x2="341" y2="501" stroke="#222"/>
<text x="203" y="493" text-anchor="middle" class="ttl">REVENUEBENEFIT_EXT</text>
<use href="#ico" x="323" y="482"/>
<rect x="84" y="508" width="253" height="14" fill="#b6ffff"/>
<text x="86" y="519">«column»</text>
<text x="86" y="533" class="r">*pfK</text><text x="108" y="533" class="r u">ID  :uniqueidentifier = (newid())</text>
<text x="86" y="546" class="r">*FK</text><text x="108" y="546" class="r">BENEFITID  :uniqueidentifier</text>
<text x="86" y="559" class="r">*</text><text x="108" y="559" class="r">SENDBENEFIT  :tinyint = ((2))</text>
<text x="86" y="572" class="r">*</text><text x="108" y="572" class="r" textLength="229" lengthAdjust="spacingAndGlyphs">PERCENTAPPLICABLEAMOUNT  :money = ((0))</text>
<text x="86" y="585" class="r">*</text><text x="108" y="585" class="r">VALUEPERCENT  :decimal(20,4) = ((0))</text>
<text x="86" y="598" class="r"> FK</text><text x="108" y="598" class="r">REVENUESPLITID  :uniqueidentifier</text>
<text x="86" y="611" class="r">*FK</text><text x="108" y="611" class="r">ADDEDBYID  :uniqueidentifier</text>
<text x="86" y="624" class="r">*FK</text><text x="108" y="624" class="r">CHANGEDBYID  :uniqueidentifier</text>
<text x="86" y="637" class="r">*</text><text x="108" y="637" class="r">DATEADDED  :datetime = (getdate())</text>
<text x="86" y="650" class="r">*</text><text x="108" y="650" class="r">DATECHANGED  :datetime = (getdate())</text>
<text x="86" y="663" class="r">*</text><text x="108" y="663" class="r">TS  :timestamp</text>
<text x="108" y="676" class="r">TSLONG  :bigint</text>
<text x="86" y="689" class="r">*</text><text x="108" y="689" class="r">BENEFITTYPECODE  :tinyint = ((1))</text>
<text x="108" y="702" class="r">BENEFITTYPE  :nvarchar(9)</text>

<!-- JOURNALENTRY -->
<rect x="1262" y="70" width="303" height="855" fill="#b4b4b4"/>
<rect x="1258" y="66" width="303" height="855" fill="url(#gf)" stroke="#222"/>
<line x1="1258" y1="90" x2="1561" y2="90" stroke="#222"/>
<line x1="1258" y1="887" x2="1561" y2="887" stroke="#222"/>
<text x="1404" y="82" text-anchor="middle" class="ttl">JOURNALENTRY</text>
<use href="#ico" x="1543" y="70"/>
<rect x="1262" y="98" width="293" height="13" fill="#fcefdb"/>
<text x="1263" y="109">«column»</text>
<text x="1263" y="121" class="r">*PK</text><text x="1286" y="121" class="r u">ID  :uniqueidentifier = (newid())</text>
<text x="1263" y="134" class="r"> FK</text><text x="1286" y="134" class="r" textLength="268" lengthAdjust="spacingAndGlyphs">FINANCIALTRANSACTIONLINEITEMID  :uniqueidentifier</text>
<text x="1263" y="147" class="r">*</text><text x="1286" y="147" class="r">TRANSACTIONTYPECODE  :tinyint = ((1))</text>
<text x="1286" y="160" class="r">TRANSACTIONTYPE  :nvarchar(6)</text>
<text x="1263" y="173" class="r">*</text><text x="1286" y="173" class="r">CLASSCODE  :tinyint = ((0))</text>
<text x="1263" y="186" class="r"> FK</text><text x="1286" y="186" class="r">JOURNALCODEID  :uniqueidentifier</text>
<text x="1263" y="199" class="r">*</text><text x="1286" y="199" class="r">SEQUENCE  :int = ((0))</text>
<text x="1263" y="212" class="r">*</text><text x="1286" y="212" class="r">TRANSACTIONAMOUNT  :money = ((0))</text>
<text x="1263" y="225" class="r">*</text><text x="1286" y="225" class="r">PERCENTAGE  :decimal(20,19) = ((0))</text>
<text x="1263" y="238" class="r"> FK</text><text x="1286" y="238" class="r">SUMMARYID  :uniqueidentifier</text>
<text x="1263" y="251" class="r"> FK</text><text x="1286" y="251" class="r">BATCHID  :uniqueidentifier</text>
<text x="1286" y="264" class="r">DATAELEMENT1ID  :uniqueidentifier</text>
<text x="1286" y="277" class="r">DATAELEMENT2ID  :uniqueidentifier</text>
<text x="1286" y="290" class="r">DATAELEMENT3ID  :uniqueidentifier</text>
<text x="1286" y="303" class="r">DATAELEMENT4ID  :uniqueidentifier</text>
<text x="1286" y="316" class="r">DATAELEMENT5ID  :uniqueidentifier</text>
<text x="1286" y="329" class="r">DATAELEMENT6ID  :uniqueidentifier</text>
<text x="1286" y="342" class="r">DATAELEMENT7ID  :uniqueidentifier</text>
<text x="1286" y="355" class="r">DATAELEMENT8ID  :uniqueidentifier</text>
<text x="1286" y="368" class="r">DATAELEMENT9ID  :uniqueidentifier</text>
<text x="1286" y="381" class="r">DATAELEMENT10ID  :uniqueidentifier</text>
<text x="1286" y="394" class="r">DATAELEMENT11ID  :uniqueidentifier</text>
<text x="1286" y="407" class="r">DATAELEMENT12ID  :uniqueidentifier</text>
<text x="1286" y="420" class="r">DATAELEMENT13ID  :uniqueidentifier</text>
<text x="1286" y="433" class="r">DATAELEMENT14ID  :uniqueidentifier</text>
<text x="1286" y="446" class="r">DATAELEMENT15ID  :uniqueidentifier</text>
<text x="1286" y="459" class="r">DATAELEMENT16ID  :uniqueidentifier</text>
<text x="1286" y="472" class="r">DATAELEMENT17ID  :uniqueidentifier</text>
<text x="1286" y="485" class="r">DATAELEMENT18ID  :uniqueidentifier</text>
<text x="1286" y="498" class="r">DATAELEMENT19ID  :uniqueidentifier</text>
<text x="1286" y="511" class="r">DATAELEMENT20ID  :uniqueidentifier</text>
<text x="1286" y="524" class="r">DATAELEMENT21ID  :uniqueidentifier</text>
<text x="1286" y="537" class="r">DATAELEMENT22ID  :uniqueidentifier</text>
<text x="1286" y="550" class="r">DATAELEMENT23ID  :uniqueidentifier</text>
<text x="1286" y="563" class="r">DATAELEMENT24ID  :uniqueidentifier</text>
<text x="1286" y="576" class="r">DATAELEMENT25ID  :uniqueidentifier</text>
<text x="1286" y="589" class="r">DATAELEMENT26ID  :uniqueidentifier</text>
<text x="1286" y="602" class="r">DATAELEMENT27ID  :uniqueidentifier</text>
<text x="1286" y="615" class="r">DATAELEMENT28ID  :uniqueidentifier</text>
<text x="1286" y="628" class="r">DATAELEMENT29ID  :uniqueidentifier</text>
<text x="1286" y="641" class="r">DATAELEMENT30ID  :uniqueidentifier</text>
<text x="1263" y="654" class="r">*</text><text x="1286" y="654" class="r">COMMENT  :nvarchar(255) = ('')</text>
<text x="1286" y="667" class="r">POSTDATE  :date</text>
<text x="1263" y="680" class="r">*FK</text><text x="1286" y="680" class="r">ADDEDBYID  :uniqueidentifier</text>
<text x="1263" y="693" class="r">*FK</text><text x="1286" y="693" class="r">CHANGEDBYID  :uniqueidentifier</text>
<text x="1263" y="706" class="r">*</text><text x="1286" y="706" class="r">DATEADDED  :datetime = (getdate())</text>
<text x="1263" y="719" class="r">*</text><text x="1286" y="719" class="r">DATECHANGED  :datetime = (getdate())</text>
<text x="1263" y="732" class="r">*</text><text x="1286" y="732" class="r">TS  :timestamp</text>
<text x="1286" y="745" class="r">TSLONG  :bigint</text>
<text x="1263" y="758" class="r"> FK</text><text x="1286" y="758" class="r">FINANCIALBATCHID  :uniqueidentifier</text>
<text x="1263" y="771" class="r"> FK</text><text x="1286" y="771" class="r">GLACCOUNTID  :uniqueidentifier</text>
<text x="1263" y="784" class="r">*</text><text x="1286" y="784" class="r">SUBLEDGERTYPECODE  :tinyint = ((1))</text>
<text x="1286" y="797" class="r">SUBLEDGERTYPE  :nvarchar(6)</text>
<text x="1263" y="810" class="r">*</text><text x="1286" y="810" class="r">BASEAMOUNT  :money = ((0))</text>
<text x="1263" y="823" class="r">*</text><text x="1286" y="823" class="r">ORGAMOUNT  :money = ((0))</text>
<text x="1263" y="836" class="r"> FK</text><text x="1286" y="836" class="r">TRANSACTIONCURRENCYID  :uniqueidentifier</text>
<text x="1286" y="849" class="r">CLASS  :nvarchar(33)</text>
<text x="1263" y="862" class="r">*</text><text x="1286" y="862" class="r">TYPECODE  :tinyint = ((0))</text>
<text x="1286" y="875" class="r">TYPE  :nvarchar(32)</text>
<text x="1409" y="903" text-anchor="middle" class="nt">notes</text>
<text x="1263" y="914" class="it">Contains journal entries.</text>

<!-- FINANCIALTRANSACTION -->
<rect x="476" y="1135" width="257" height="464" fill="#b4b4b4"/>
<rect x="472" y="1131" width="257" height="464" fill="url(#gf)" stroke="#222"/>
<line x1="472" y1="1154" x2="729" y2="1154" stroke="#222"/>
<line x1="472" y1="1562" x2="729" y2="1562" stroke="#222"/>
<text x="593" y="1146" text-anchor="middle" class="ttl">FINANCIALTRANSACTION</text>
<use href="#ico" x="711" y="1135"/>
<rect x="476" y="1162" width="249" height="13" fill="#fcefdb"/>
<text x="477" y="1173">«column»</text>
<text x="477" y="1186" class="r">*PK</text><text x="500" y="1186" class="r u">ID  :uniqueidentifier = (newid())</text>
<text x="477" y="1199" class="r"> FK</text><text x="500" y="1199" class="r">CONSTITUENTID  :uniqueidentifier</text>
<text x="477" y="1212" class="r">*</text><text x="500" y="1212" class="r">USERDEFINEDID  :nvarchar(100) = ('')</text>
<text x="477" y="1225" class="r">*</text><text x="500" y="1225" class="r">TYPECODE  :tinyint = ((101))</text>
<text x="477" y="1238" class="r">*</text><text x="500" y="1238" class="r">TRANSACTIONAMOUNT  :money = ((0))</text>
<text x="477" y="1251" class="r">*</text><text x="500" y="1251" class="r">DATE  :datetimeoffset(0)</text>
<text x="477" y="1264" class="r">*FK</text><text x="500" y="1264" class="r">ADDEDBYID  :uniqueidentifier</text>
<text x="477" y="1277" class="r">*FK</text><text x="500" y="1277" class="r">CHANGEDBYID  :uniqueidentifier</text>
<text x="477" y="1290" class="r">*</text><text x="500" y="1290" class="r">DATEADDED  :datetime = (getdate())</text>
<text x="477" y="1303" class="r">*</text><text x="500" y="1303" class="r">DATECHANGED  :datetime = (getdate())</text>
<text x="477" y="1316" class="r">*</text><text x="500" y="1316" class="r">TS  :timestamp</text>
<text x="500" y="1329" class="r">TSLONG  :bigint</text>
<text x="477" y="1342" class="r">*</text><text x="500" y="1342" class="r">DESCRIPTION  :nvarchar(700) = ('')</text>
<text x="477" y="1355" class="r"> FK</text><text x="500" y="1355" class="r">PARENTID  :uniqueidentifier</text>
<text x="500" y="1368" class="r">POSTDATE  :date</text>
<text x="477" y="1381" class="r">*</text><text x="500" y="1381" class="r">POSTSTATUSCODE  :tinyint = ((1))</text>
<text x="500" y="1394" class="r">POSTSTATUS  :nvarchar(11)</text>
<text x="500" y="1407" class="r">DELETEDON  :datetime</text>
<text x="477" y="1420" class="r">*FK</text><text x="500" y="1420" class="r" textLength="224" lengthAdjust="spacingAndGlyphs">TRANSACTIONCURRENCYID  :uniqueidentifier</text>
<text x="477" y="1433" class="r"> FK</text><text x="500" y="1433" class="r">BASEEXCHANGERATEID  :uniqueidentifier</text>
<text x="477" y="1446" class="r"> FK</text><text x="500" y="1446" class="r">ORGEXCHANGERATEID  :uniqueidentifier</text>
<text x="477" y="1459" class="r"> FK</text><text x="500" y="1459" class="r">PDACCOUNTSYSTEMID  :uniqueidentifier</text>
<text x="477" y="1472" class="r">*</text><text x="500" y="1472" class="r">BASEAMOUNT  :money = ((0))</text>
<text x="477" y="1485" class="r">*</text><text x="500" y="1485" class="r">ORGAMOUNT  :money = ((0))</text>
<text x="477" y="1498" class="r">*</text><text x="500" y="1498" class="r">SEQUENCEGENERATORID  :int</text>
<text x="477" y="1511" class="r"> FK</text><text x="500" y="1511" class="r">APPUSERID  :uniqueidentifier</text>
<text x="500" y="1524" class="r">TYPE  :nvarchar(27)</text>
<text x="500" y="1537" class="r" textLength="223" lengthAdjust="spacingAndGlyphs">CALCULATEDUSERDEFINEDID  :nvarchar(100)</text>
<text x="500" y="1550" class="r">CALCULATEDDATE  :date</text>
<text x="600" y="1577" text-anchor="middle" class="nt">notes</text>
<text x="477" y="1588" class="it">All financial transaction records.</text>

<!-- REVENUE_EXT -->
<rect x="1097" y="1325" width="289" height="424" fill="#b4b4b4"/>
<rect x="1093" y="1321" width="289" height="424" fill="url(#gc)" stroke="#222"/>
<line x1="1093" y1="1345" x2="1382" y2="1345" stroke="#222"/>
<text x="1227" y="1337" text-anchor="middle" class="ttl">REVENUE_EXT</text>
<use href="#ico" x="1364" y="1325"/>
<rect x="1097" y="1351" width="281" height="14" fill="#b6ffff"/>
<text x="1099" y="1363">«column»</text>
<text x="1098" y="1376" class="r">*pfK</text><text x="1121" y="1376" class="r u">ID  :uniqueidentifier = (newid())</text>
<text x="1098" y="1389" class="r">*</text><text x="1121" y="1389" class="r">BATCHNUMBER  :nvarchar(100) = ('')</text>
<text x="1098" y="1402" class="r">*</text><text x="1121" y="1402" class="r">DONOTRECEIPT  :bit = ((0))</text>
<text x="1098" y="1415" class="r">*</text><text x="1121" y="1415" class="r">RECEIPTAMOUNT  :money = ((0))</text>
<text x="1098" y="1428" class="r">*</text><text x="1121" y="1428" class="r">SOURCECODE  :nvarchar(50) = ('')</text>
<text x="1098" y="1441" class="r">*</text><text x="1121" y="1441" class="r">FINDERNUMBER  :bigint = ((0))</text>
<text x="1098" y="1454" class="r"> FK</text><text x="1121" y="1454" class="r">APPEALID  :uniqueidentifier</text>
<text x="1098" y="1467" class="r"> FK</text><text x="1121" y="1467" class="r">MAILINGID  :uniqueidentifier</text>
<text x="1098" y="1480" class="r"> FK</text><text x="1121" y="1480" class="r">CHANNELCODEID  :uniqueidentifier</text>
<text x="1098" y="1493" class="r">*</text><text x="1121" y="1493" class="r">GIVENANONYMOUSLY  :bit = ((0))</text>
<text x="1098" y="1506" class="r">*</text><text x="1121" y="1506" class="r">DONOTACKNOWLEDGE  :bit = ((0))</text>
<text x="1098" y="1519" class="r">*</text><text x="1121" y="1519" class="r">BENEFITSWAIVED  :bit = ((0))</text>
<text x="1098" y="1532" class="r">*</text><text x="1121" y="1532" class="r">RECEIPTTYPECODE  :tinyint = ((0))</text>
<text x="1121" y="1545" class="r">RECEIPTTYPE  :nvarchar(12)</text>
<text x="1098" y="1558" class="r">*</text><text x="1121" y="1558" class="r">NEEDSRERECEIPT  :bit = ((0))</text>
<text x="1098" y="1571" class="r">*</text><text x="1121" y="1571" class="r">ELIGIBLEFORMATCHINGGIFTCLAIM  :bit = ((0))</text>
<text x="1098" y="1584" class="r">*</text><text x="1121" y="1584" class="r">ISREIMBURSABLE  :bit = ((0))</text>
<text x="1098" y="1597" class="r">*</text><text x="1121" y="1597" class="r">REFERENCE  :nvarchar(255) = ('')</text>
<text x="1098" y="1610" class="r">*FK</text><text x="1121" y="1610" class="r">ADDEDBYID  :uniqueidentifier</text>
<text x="1098" y="1623" class="r">*FK</text><text x="1121" y="1623" class="r">CHANGEDBYID  :uniqueidentifier</text>
<text x="1098" y="1636" class="r">*</text><text x="1121" y="1636" class="r">DATEADDED  :datetime = (getdate())</text>
<text x="1098" y="1649" class="r">*</text><text x="1121" y="1649" class="r">DATECHANGED  :datetime = (getdate())</text>
<text x="1098" y="1662" class="r">*</text><text x="1121" y="1662" class="r">TS  :timestamp</text>
<text x="1121" y="1675" class="r">TSLONG  :bigint</text>
<text x="1098" y="1688" class="r"> FK</text><text x="1121" y="1688" class="r" textLength="255" lengthAdjust="spacingAndGlyphs">NONPOSTABLEBASECURRENCYID  :uniqueidentifier</text>

<!-- ================= VIEWS ================= -->
<!-- REVENUEPOSTED -->
<rect x="601" y="921" width="123" height="25" fill="#b4b4b4"/>
<rect x="598" y="918" width="123" height="25" fill="url(#gy)" stroke="#222"/>
<text x="660" y="931" text-anchor="middle" style="font-size:9.5px">«view»</text>
<text x="660" y="944" text-anchor="middle" class="b" style="font-size:9.8px">REVENUEPOSTED</text>

<!-- REVENUEBENEFIT -->
<rect x="200" y="1160" width="121" height="27" fill="#b4b4b4"/>
<rect x="197" y="1157" width="121" height="27" fill="url(#gy)" stroke="#222"/>
<text x="257" y="1172" text-anchor="middle" style="font-size:9.5px">«view»</text>
<text x="257" y="1186" text-anchor="middle" class="b" style="font-size:9.8px">REVENUEBENEFIT</text>

<!-- REVENUE -->
<rect x="1209" y="1202" width="99" height="38" fill="#b4b4b4"/>
<rect x="1206" y="1199" width="99" height="38" fill="url(#gy)" stroke="#222"/>
<text x="1255" y="1215" text-anchor="middle" style="font-size:9.5px">«view»</text>
<text x="1255" y="1229" text-anchor="middle" class="b" style="font-size:10px">REVENUE</text>

<!-- REVENUEREFERENCE -->
<rect x="1212" y="1778" width="148" height="62" fill="#b4b4b4"/>
<rect x="1209" y="1775" width="148" height="62" fill="url(#gy)" stroke="#222"/>
<line x1="1209" y1="1811" x2="1357" y2="1811" stroke="#222"/>
<text x="1283" y="1791" text-anchor="middle" style="font-size:9.5px">«view»</text>
<text x="1283" y="1804" text-anchor="middle" class="b" style="font-size:10px">REVENUEREFERENCE</text>
</svg>
</body></html>
